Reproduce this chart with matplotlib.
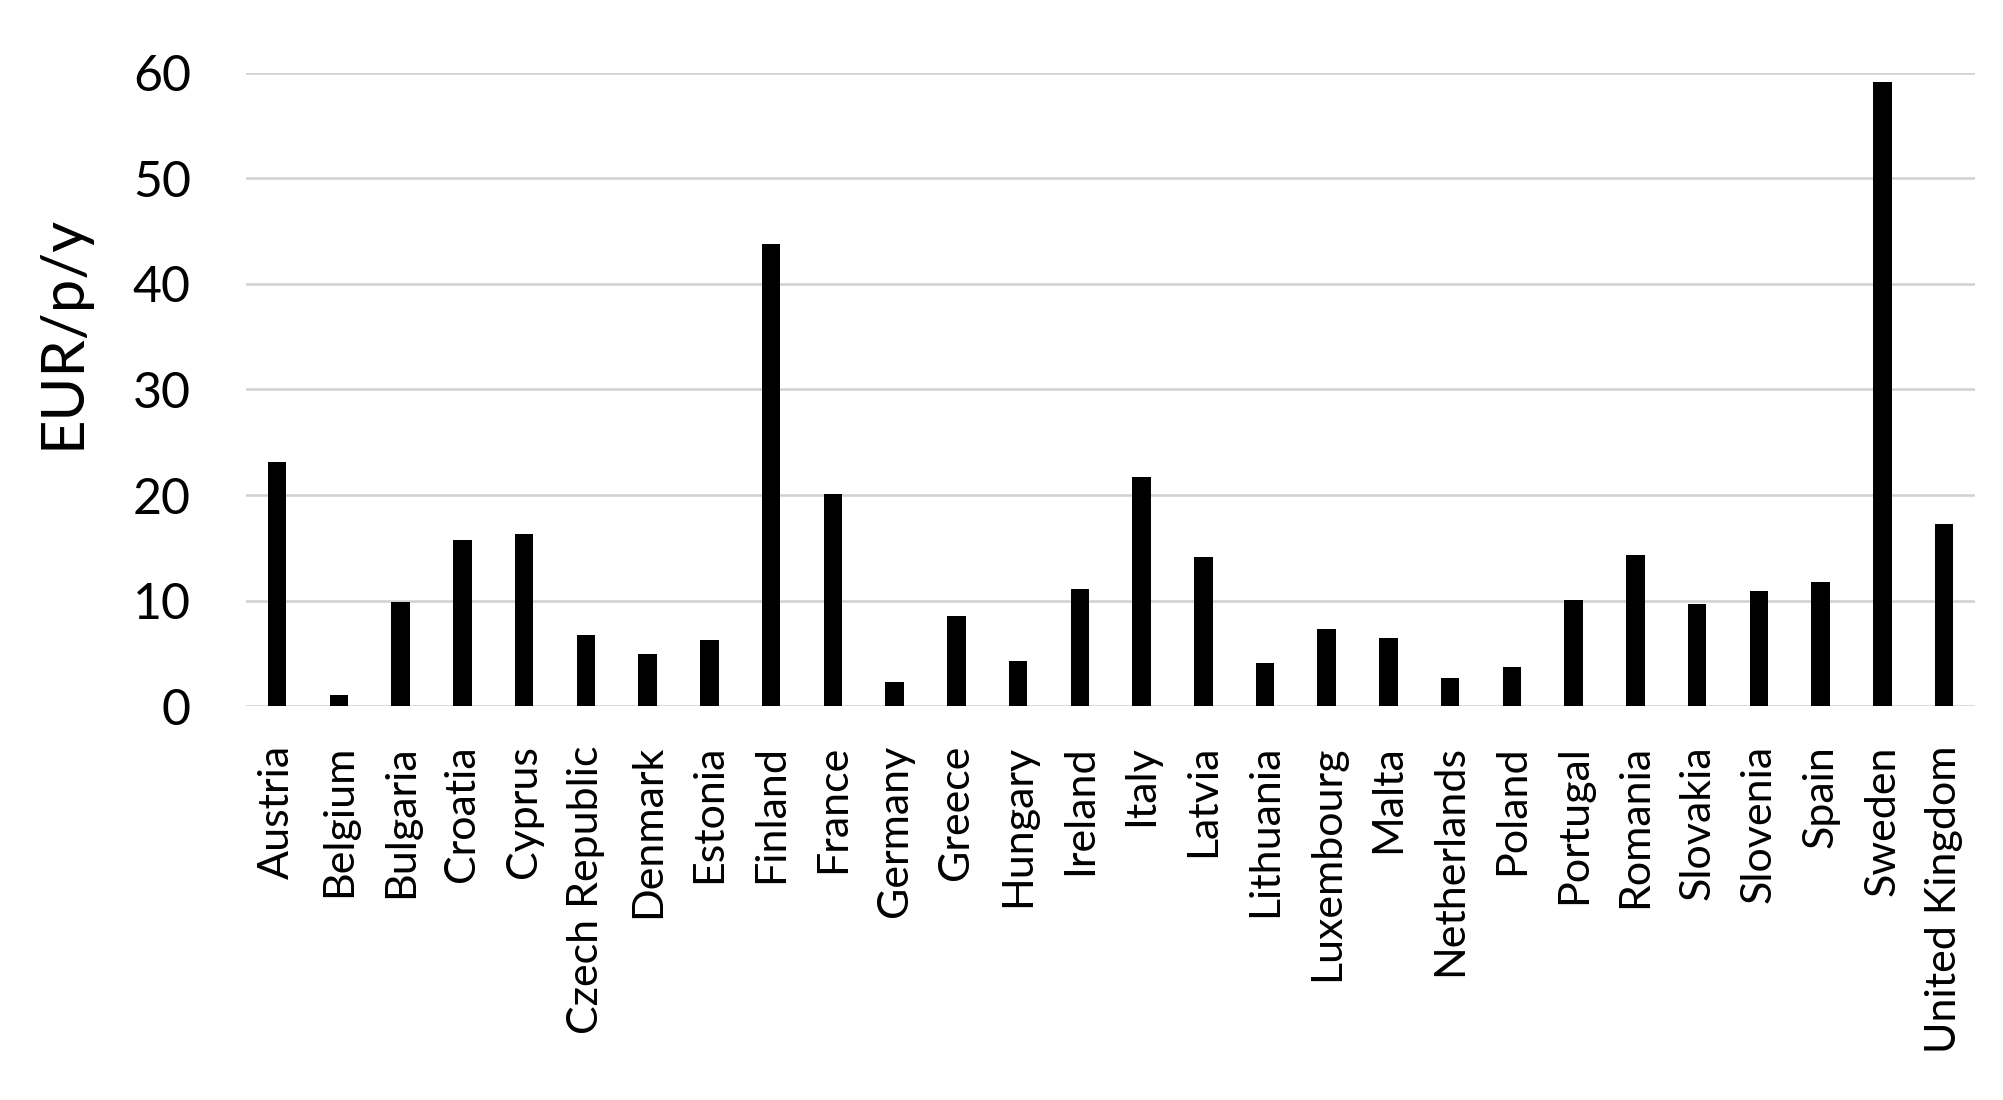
import matplotlib.pyplot as plt
import numpy as np

# land og verdier (EUR/p/y), lest av figuren
countries = ['Austria', 'Belgium', 'Bulgaria', 'Croatia', 'Cyprus', 'Czech Republic',
             'Denmark', 'Estonia', 'Finland', 'France', 'Germany', 'Greece', 'Hungary',
             'Ireland', 'Italy', 'Latvia', 'Lithuania', 'Luxembourg', 'Malta',
             'Netherlands', 'Poland', 'Portugal', 'Romania', 'Slovakia', 'Slovenia',
             'Spain', 'Sweden', 'United Kingdom']
values = [23.1, 1.1, 9.9, 15.7, 16.3, 6.7, 4.9, 6.3, 43.8, 20.1, 2.3, 8.5, 4.3,
          11.1, 21.7, 14.1, 4.1, 7.3, 6.5, 2.7, 3.7, 10.1, 14.3, 9.7, 10.9, 11.75,
          59.1, 17.3]
yticks = [0, 10, 20, 30, 40, 50, 60]

plt.rcParams['font.family'] = ['Lato', 'DejaVu Sans']

fig = plt.figure(figsize=(20.03, 11), dpi=100)
ax = fig.add_axes([0.123, 0.358, 0.863, 0.576])

x = np.arange(len(countries))
ax.bar(x, values, width=0.3, color='black', zorder=3)

ax.set_xlim(-0.5, len(countries) - 0.5)
ax.set_ylim(0, 60)
ax.set_yticks(yticks)
ax.set_yticklabels([str(t) for t in yticks], fontsize=36)
ax.set_xticks(x)
ax.set_xticklabels(countries, rotation=90, fontsize=31)
ax.tick_params(axis='both', length=0, colors='black')
ax.tick_params(axis='y', pad=40)
ax.tick_params(axis='x', pad=28)

ax.grid(axis='y', color='#d0d0d0', linewidth=1.8, zorder=0)
for s in ax.spines.values():
    s.set_visible(False)

fig.text(0.031, 0.698, 'EUR/p/y', rotation=90, fontsize=43, ha='center', va='center')

fig.savefig('out.png', dpi=100)
